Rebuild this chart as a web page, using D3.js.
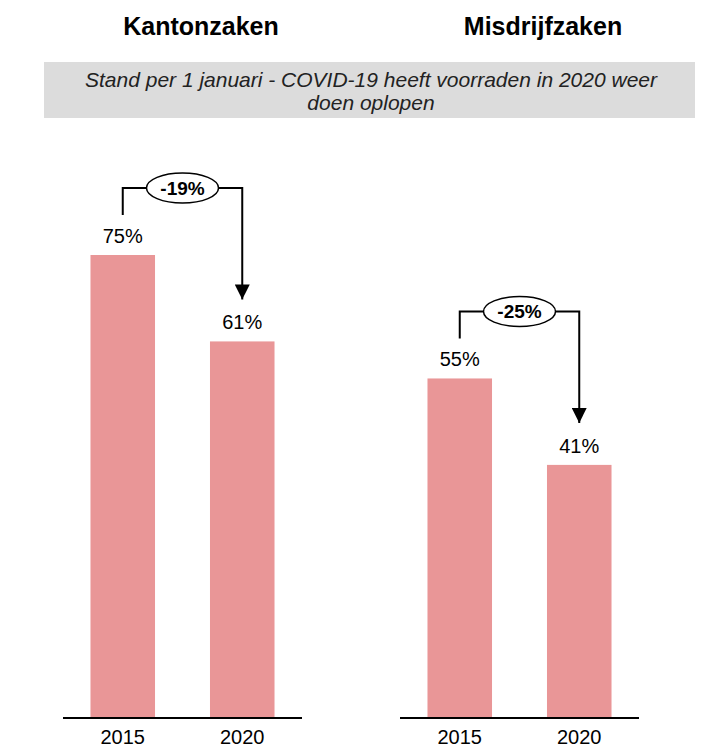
<!DOCTYPE html>
<html>
<head>
<meta charset="utf-8">
<script src="https://cdn.jsdelivr.net/npm/d3@7"></script>
<style>
  body { margin: 0; background: #fff; }
  text { font-family: "Liberation Sans", Arial, sans-serif; }
</style>
</head>
<body>
<div id="chart"></div>
<script>
// data
var years = ["2015", "2020"];
var panelTitles = ["Kantonzaken", "Misdrijfzaken"];
var kantonValues = [75, 61];
var misdrijfValues = [55, 41];
var changeLabels = ["-19%", "-25%"];
var subtitleLines = ["Stand per 1 januari - COVID-19 heeft voorraden in 2020 weer", "doen oplopen"];

var width = 709, height = 751;
var baseY = 718;
var barColor = "#e99697";

var svg = d3.select("#chart").append("svg")
   .attr("width", width).attr("height", height);

svg.append("defs").append("marker")
   .attr("id", "arrow")
   .attr("viewBox", "0 0 10 10")
   .attr("refX", 10).attr("refY", 5)
   .attr("markerWidth", 15).attr("markerHeight", 15)
   .attr("markerUnits", "userSpaceOnUse")
   .attr("orient", "auto")
   .append("path").attr("d", "M0,0L10,5L0,10Z").attr("fill", "#000");

// y scale shared by both panels
var y = d3.scaleLinear().domain([0, 75]).range([baseY, 255]);

// subtitle box
svg.append("rect")
   .attr("x", 44).attr("y", 62).attr("width", 651).attr("height", 56)
   .attr("fill", "#dcdcdc");
subtitleLines.forEach(function(t, i) {
   svg.append("text")
      .attr("x", 371).attr("y", 87 + i * 23)
      .attr("text-anchor", "middle")
      .style("font-size", "21px").style("font-style", "italic")
      .attr("fill", "#222")
      .text(t);
});

var panels = [
   {title: panelTitles[0], values: kantonValues, change: changeLabels[0], x0: 63, x1: 302, titleX: 201},
   {title: panelTitles[1], values: misdrijfValues, change: changeLabels[1], x0: 400, x1: 639, titleX: 543}
];

panels.forEach(function(p) {
   var x = d3.scaleBand().domain(years).range([p.x0, p.x1]).paddingInner(0.46).paddingOuter(0.23);
   var g = svg.append("g");

   svg.append("text")
      .attr("x", p.titleX).attr("y", 35)
      .attr("text-anchor", "middle")
      .style("font-size", "25px").style("font-weight", "bold")
      .text(p.title);

   g.selectAll(".bar").data(p.values).enter()
      .append("rect").attr("class", "bar")
      .attr("x", function(d, i) { return x(years[i]); })
      .attr("y", function(d) { return y(d); })
      .attr("width", x.bandwidth())
      .attr("height", function(d) { return baseY - y(d); })
      .attr("fill", barColor);

   g.selectAll(".val").data(p.values).enter()
      .append("text").attr("class", "val")
      .attr("x", function(d, i) { return x(years[i]) + x.bandwidth() / 2; })
      .attr("y", function(d) { return y(d) - 12; })
      .attr("text-anchor", "middle")
      .style("font-size", "20px")
      .text(function(d) { return d + "%"; });

   // axis
   var axis = g.append("g")
      .attr("transform", "translate(0," + baseY + ")")
      .call(d3.axisBottom(x).tickSize(0).tickPadding(12));
   axis.select(".domain").attr("stroke", "#000").attr("stroke-width", 2)
      .attr("d", "M" + p.x0 + ",0H" + p.x1);
   axis.selectAll("text").style("font-size", "20px").attr("fill", "#000")
      .style("font-family", "'Liberation Sans', Arial, sans-serif");

   // change bracket
   var cx1 = x(years[0]) + x.bandwidth() / 2;
   var cx2 = x(years[1]) + x.bandwidth() / 2;
   var topY = y(p.values[0]) - 67;
   var mid = (cx1 + cx2) / 2;
   g.append("path")
      .attr("d", "M" + cx1 + "," + (y(p.values[0]) - 40) + "V" + topY + "H" + (mid - 35))
      .attr("fill", "none").attr("stroke", "#000").attr("stroke-width", 2);
   g.append("path")
      .attr("d", "M" + (mid + 35) + "," + topY + "H" + cx2 + "V" + (y(p.values[1]) - 42))
      .attr("fill", "none").attr("stroke", "#000").attr("stroke-width", 2)
      .attr("marker-end", "url(#arrow)");
   g.append("ellipse")
      .attr("cx", mid).attr("cy", topY)
      .attr("rx", 36).attr("ry", 15)
      .attr("fill", "#fff").attr("stroke", "#000").attr("stroke-width", 1.5);
   g.append("text")
      .attr("x", mid).attr("y", topY + 7)
      .attr("text-anchor", "middle")
      .style("font-size", "19px").style("font-weight", "bold")
      .text(p.change);
});
</script>
</body>
</html>
